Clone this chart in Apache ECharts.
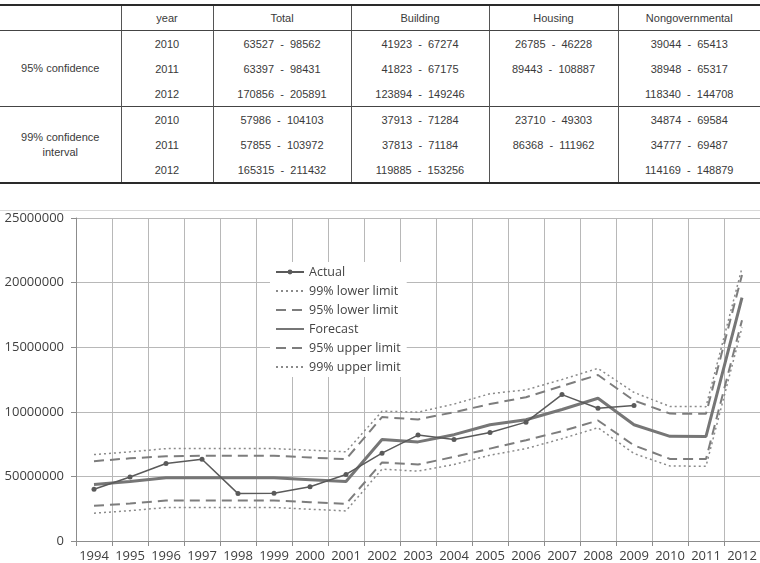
<!DOCTYPE html>
<html>
<head>
<meta charset="utf-8">
<script src="https://cdn.jsdelivr.net/npm/echarts@6/dist/echarts.min.js"></script>
<style>
  html, body { margin: 0; padding: 0; background: #fff; }
  #tbl {
    position: absolute; left: 0; top: 4px; width: 760px;
    border-collapse: collapse; table-layout: fixed;
    font: 11px "Liberation Sans", Arial, sans-serif; color: #3a3a3a;
    border-top: 2px solid #2a2a2a; border-bottom: 2px solid #2a2a2a;
  }
  #tbl th, #tbl td { text-align: center; padding: 0; white-space: pre; font-weight: normal; }
  #tbl th { height: 24px; border-bottom: 1px solid #444; }
  #tbl td { height: 25px; }
  #tbl th + th, #tbl td.c { border-left: 1px solid #555; }
  #tbl td.g { white-space: pre-line; line-height: 15px; }
  #tbl tr.sep td { border-top: 1px solid #444; }
  #chart {
    position: absolute; left: 0; top: 210px; width: 760px; height: 353px;
    border-top: 1px solid #d9d9d9; box-sizing: border-box;
  }
</style>
</head>
<body>
<table id="tbl"></table>
<div id="chart"></div>
<script>
// table data
const tableHeader = ["", "year", "Total", "Building", "Housing", "Nongovernmental"];
const groupLabels = ["95%  confidence", "99%  confidence\ninterval"];
const tableYears = ["2010", "2011", "2012"];
const total95 = ["63527 - 98562", "63397 - 98431", "170856 - 205891"];
const building95 = ["41923 - 67274", "41823 - 67175", "123894 - 149246"];
const housing95 = ["26785 - 46228", "89443 - 108887", ""];
const nongov95 = ["39044 - 65413", "38948 - 65317", "118340 - 144708"];
const total99 = ["57986 - 104103", "57855 - 103972", "165315 - 211432"];
const building99 = ["37913 - 71284", "37813 - 71184", "119885 - 153256"];
const housing99 = ["23710 - 49303", "86368 - 111962", ""];
const nongov99 = ["34874 - 69584", "34777 - 69487", "114169 - 148879"];

// chart data
const years = ["1994", "1995", "1996", "1997", "1998", "1999", "2000", "2001", "2002", "2003",
  "2004", "2005", "2006", "2007", "2008", "2009", "2010", "2011", "2012"];
const actual = [4000000, 4950000, 6000000, 6330000, 3670000, 3700000, 4200000, 5150000, 6800000, 8200000,
  7850000, 8400000, 9200000, 11330000, 10280000, 10480000, null, null, null];
const forecast = [4380000, 4600000, 4900000, 4900000, 4900000, 4900000, 4750000, 4600000, 7850000, 7670000,
  8230000, 9000000, 9380000, 10180000, 11050000, 9000000, 8100000, 8090000, 18840000];
const upper95 = [6180000, 6400000, 6560000, 6600000, 6600000, 6600000, 6460000, 6330000, 9590000, 9410000,
  9970000, 10600000, 11130000, 12000000, 12850000, 10870000, 9860000, 9840000, 20590000];
const upper99 = [6690000, 6900000, 7150000, 7150000, 7150000, 7150000, 7030000, 6900000, 10050000, 9970000,
  10600000, 11400000, 11700000, 12500000, 13360000, 11500000, 10410000, 10400000, 21140000];
const lower95 = [2720000, 2900000, 3130000, 3130000, 3130000, 3130000, 3000000, 2870000, 6080000, 5920000,
  6510000, 7150000, 7800000, 8500000, 9330000, 7400000, 6350000, 6340000, 17090000];
const lower99 = [2150000, 2350000, 2590000, 2590000, 2590000, 2590000, 2460000, 2330000, 5560000, 5410000,
  5920000, 6640000, 7150000, 7920000, 8770000, 6770000, 5800000, 5790000, 16530000];
const yTickLabels = ["0", "50000000", "10000000", "15000000", "20000000", "25000000"];

// column widths of the table
const colWidths = [121, 92, 138, 138, 129, 142];

function buildTable() {
  let html = "<colgroup>" + colWidths.map((w) => '<col style="width:' + w + 'px">').join("") + "</colgroup>";
  html += "<tr>" + tableHeader.map((h) => "<th>" + h + "</th>").join("") + "</tr>";
  const groups = [
    [total95, building95, housing95, nongov95],
    [total99, building99, housing99, nongov99],
  ];
  groups.forEach((cols, g) => {
    tableYears.forEach((y, i) => {
      let row = '<tr' + (g > 0 && i === 0 ? ' class="sep"' : "") + ">";
      if (i === 0) row += '<td class="g" rowspan="3">' + groupLabels[g] + "</td>";
      row += '<td class="c">' + y + "</td>";
      cols.forEach((c) => { row += '<td class="c">' + c[i].replace(" - ", "  -  ") + "</td>"; });
      html += row + "</tr>";
    });
  });
  document.getElementById("tbl").innerHTML = html;
}
buildTable();

const gray = "#6f6f6f";
const chart = echarts.init(document.getElementById("chart"));
chart.setOption({
  animation: false,
  textStyle: { fontFamily: "Open Sans" },
  grid: { left: 76, right: 0, top: 7, bottom: 20 },
  legend: {
    orient: "vertical",
    left: 270,
    top: 51,
    padding: [3, 6, 3, 5],
    backgroundColor: "#fff",
    itemWidth: 28,
    itemHeight: 6,
    itemGap: 5,
    textStyle: { fontSize: 12.5, lineHeight: 14, color: "#444", fontFamily: "Open Sans" },
    data: [
      { name: "Actual" },
      { name: "99% lower limit", itemStyle: { opacity: 0 } },
      { name: "95% lower limit", itemStyle: { opacity: 0 } },
      { name: "Forecast", itemStyle: { opacity: 0 } },
      { name: "95% upper limit", itemStyle: { opacity: 0 } },
      { name: "99% upper limit", itemStyle: { opacity: 0 } },
    ],
  },
  xAxis: {
    type: "category",
    data: years,
    boundaryGap: true,
    axisLine: { lineStyle: { color: "#8c8c8c" } },
    axisTick: { show: true, length: 5, lineStyle: { color: "#8c8c8c" } },
    axisLabel: { interval: 0, fontSize: 13, color: "#404040", margin: 9 },
    splitLine: { show: true, interval: 0, lineStyle: { color: "#b8b8b8" } },
  },
  yAxis: {
    type: "value",
    min: 0,
    max: 25000000,
    interval: 5000000,
    axisLine: { show: true, lineStyle: { color: "#8c8c8c" } },
    axisTick: { show: true, length: 5, lineStyle: { color: "#8c8c8c" } },
    axisLabel: {
      fontSize: 13,
      color: "#404040",
      margin: 12,
      formatter: (v) => yTickLabels[Math.round(v / 5000000)],
    },
    splitLine: { lineStyle: { color: "#b8b8b8" } },
  },
  series: [
    {
      name: "Actual", type: "line", data: actual,
      symbol: "circle", symbolSize: 5,
      itemStyle: { color: "#5a5a5a" },
      lineStyle: { color: "#5a5a5a", width: 1.5 },
      z: 5,
    },
    {
      name: "99% lower limit", type: "line", data: lower99, symbol: "none",
      itemStyle: { color: gray },
      lineStyle: { color: "#8a8a8a", width: 1.5, type: [2, 3] },
    },
    {
      name: "95% lower limit", type: "line", data: lower95, symbol: "none",
      itemStyle: { color: gray },
      lineStyle: { color: "#7d7d7d", width: 2, type: [10, 6] },
    },
    {
      name: "Forecast", type: "line", data: forecast, symbol: "none",
      itemStyle: { color: gray },
      lineStyle: { color: "#767676", width: 3 },
      z: 4,
    },
    {
      name: "95% upper limit", type: "line", data: upper95, symbol: "none",
      itemStyle: { color: gray },
      lineStyle: { color: "#7d7d7d", width: 2, type: [10, 6] },
    },
    {
      name: "99% upper limit", type: "line", data: upper99, symbol: "none",
      itemStyle: { color: gray },
      lineStyle: { color: "#8a8a8a", width: 1.5, type: [2, 3] },
    },
  ],
});
</script>
</body>
</html>
